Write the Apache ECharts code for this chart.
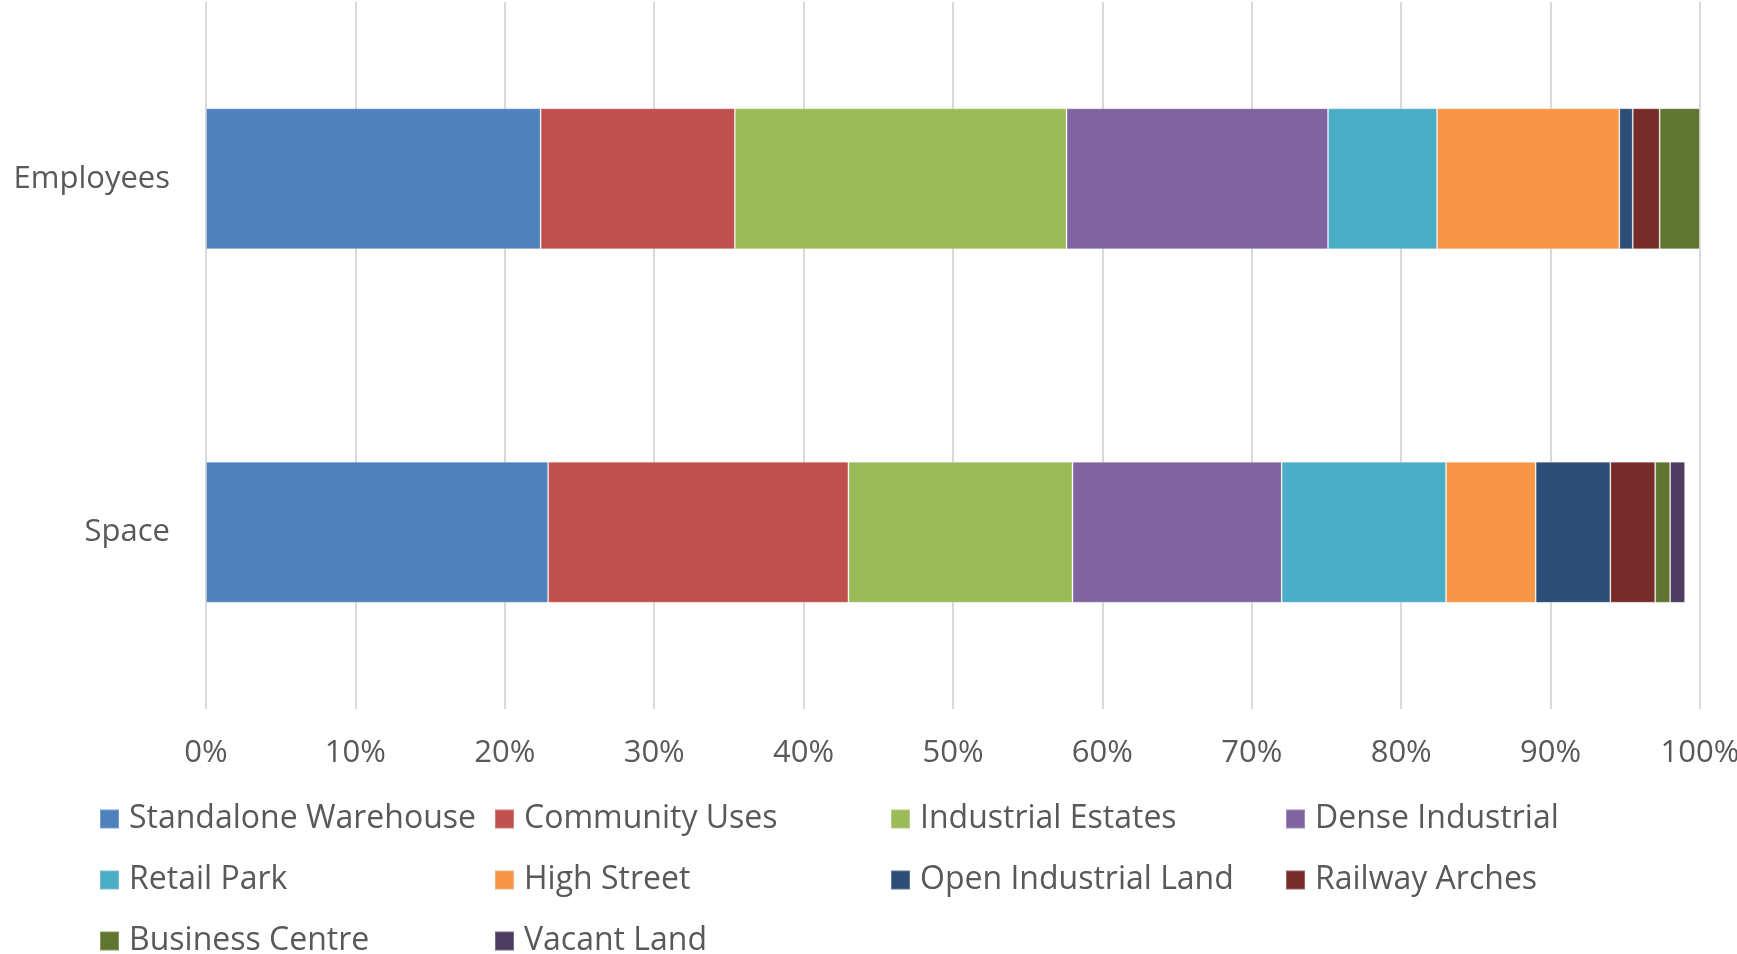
<!DOCTYPE html>
<html>
<head>
<meta charset="utf-8">
<script src="https://cdn.jsdelivr.net/npm/echarts@6/dist/echarts.min.js"></script>
<style>
html,body{margin:0;padding:0;background:#fff;}
#chart{width:1737px;height:954px;}
</style>
</head>
<body>
<div id="chart"></div>
<script>
const categories = ['Employees', 'Space'];
const seriesNames = ['Standalone Warehouse','Community Uses','Industrial Estates','Dense Industrial','Retail Park','High Street','Open Industrial Land','Railway Arches','Business Centre','Vacant Land'];
const employeesValues = [22.4, 13.0, 22.2, 17.5, 7.3, 12.2, 0.9, 1.8, 2.7, 0];
const spaceValues = [22.9, 20.1, 15.0, 14.0, 11.0, 6.0, 5.0, 3.0, 1.0, 1.0];
const tickLabels = ['0%','10%','20%','30%','40%','50%','60%','70%','80%','90%','100%'];
const colors = ['#4F81BD','#C0504D','#9BBB59','#8064A2','#4BACC6','#F79646','#2C4D75','#772C2A','#5F7530','#4D3B62'];

const FONT = '"Open Sans", sans-serif';
const TEXT = '#595959';

const series = seriesNames.map((name, i) => ({
  name: name,
  type: 'bar',
  stack: 'total',
  barWidth: 141,
  itemStyle: { color: colors[i], borderColor: 'rgba(255,255,255,0.25)', borderWidth: 1 },
  emphasis: { disabled: true },
  data: [employeesValues[i], spaceValues[i]]
}));

const legendCols = [
  { left: 99, data: [seriesNames[0], seriesNames[4], seriesNames[8]] },
  { left: 494, data: [seriesNames[1], seriesNames[5], seriesNames[9]] },
  { left: 890, data: [seriesNames[2], seriesNames[6]] },
  { left: 1285, data: [seriesNames[3], seriesNames[7]] }
];

const legends = legendCols.map(c => ({
  orient: 'vertical',
  left: c.left,
  top: 803,
  height: 300,
  padding: 0,
  itemGap: 29,
  itemWidth: 19,
  itemHeight: 19,
  icon: 'rect',
  selectedMode: false,
  data: c.data,
  textStyle: { fontFamily: FONT, fontSize: 32, color: TEXT, lineHeight: 32, padding: [0,0,0,5] }
}));

const chart = echarts.init(document.getElementById('chart'));
chart.setOption({
  animation: false,
  color: colors,
  grid: { left: 206, right: 37, top: 2, bottom: 245, containLabel: false, outerBoundsMode: 'none' },
  xAxis: {
    type: 'value',
    min: 0, max: 100, interval: 10,
    axisLine: { show: false },
    axisTick: { show: false },
    splitLine: { show: true, lineStyle: { color: '#D9D9D9', width: 2 } },
    axisLabel: {
      margin: 29,
      fontFamily: FONT, fontSize: 31, color: TEXT,
      formatter: v => tickLabels[Math.round(v / 10)]
    }
  },
  yAxis: {
    type: 'category',
    inverse: true,
    data: categories,
    axisLine: { show: false },
    axisTick: { show: false },
    axisLabel: { margin: 36, fontFamily: FONT, fontSize: 31, color: TEXT }
  },
  legend: legends,
  series: series
});
</script>
</body>
</html>
